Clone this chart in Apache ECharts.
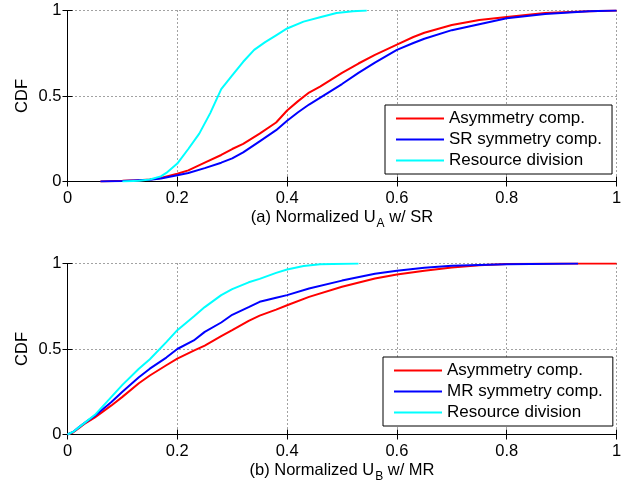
<!DOCTYPE html>
<html>
<head>
<meta charset="utf-8">
<script src="https://cdn.jsdelivr.net/npm/echarts@6/dist/echarts.min.js"></script>
<style>
  html, body { margin: 0; padding: 0; background: #fff; }
  #chart { width: 632px; height: 483px; }
</style>
</head>
<body>
<div id="chart"></div>
<script>
// tick values
var xTicks = [0, 0.2, 0.4, 0.6, 0.8, 1]
var yTicks = [0, 0.5, 1]

// (a) Normalized U_A w/ SR
var topAsymX = [0.06, 0.1, 0.13, 0.15, 0.17, 0.2, 0.22, 0.25, 0.28, 0.3, 0.32, 0.35, 0.38, 0.4, 0.42, 0.44, 0.46, 0.5, 0.53, 0.56, 0.6, 0.63, 0.65, 0.7, 0.75, 0.8, 0.87, 0.95, 1]
var topAsymY = [0, 0.004, 0.008, 0.012, 0.02, 0.045, 0.065, 0.11, 0.155, 0.19, 0.22, 0.28, 0.345, 0.415, 0.47, 0.52, 0.555, 0.635, 0.69, 0.74, 0.8, 0.845, 0.87, 0.915, 0.945, 0.962, 0.985, 0.996, 1]
var topSymX = [0.06, 0.1, 0.15, 0.17, 0.2, 0.22, 0.25, 0.28, 0.3, 0.32, 0.35, 0.38, 0.4, 0.42, 0.44, 0.47, 0.5, 0.53, 0.56, 0.6, 0.63, 0.65, 0.7, 0.75, 0.8, 0.87, 0.95, 1]
var topSymY = [0, 0.003, 0.01, 0.018, 0.037, 0.05, 0.078, 0.11, 0.135, 0.17, 0.235, 0.3, 0.355, 0.405, 0.45, 0.51, 0.57, 0.635, 0.695, 0.77, 0.81, 0.835, 0.885, 0.92, 0.955, 0.98, 0.995, 1]
var topDivX = [0.1, 0.13, 0.15, 0.17, 0.18, 0.2, 0.22, 0.24, 0.26, 0.28, 0.3, 0.32, 0.34, 0.36, 0.38, 0.4, 0.43, 0.46, 0.49, 0.52, 0.545]
var topDivY = [0, 0.004, 0.012, 0.03, 0.05, 0.105, 0.19, 0.28, 0.4, 0.54, 0.62, 0.7, 0.77, 0.815, 0.855, 0.895, 0.935, 0.96, 0.985, 0.995, 1]

// (b) Normalized U_B w/ MR
var botAsymX = [0, 0.01, 0.02, 0.03, 0.05, 0.08, 0.1, 0.13, 0.15, 0.18, 0.2, 0.23, 0.25, 0.28, 0.3, 0.33, 0.35, 0.38, 0.4, 0.44, 0.5, 0.56, 0.6, 0.65, 0.7, 0.75, 0.8, 0.9, 1]
var botAsymY = [0, 0.012, 0.035, 0.06, 0.1, 0.17, 0.22, 0.3, 0.345, 0.405, 0.444, 0.49, 0.52, 0.575, 0.61, 0.665, 0.695, 0.73, 0.756, 0.805, 0.864, 0.912, 0.936, 0.958, 0.976, 0.99, 0.997, 1, 1]
var botSymX = [0, 0.01, 0.02, 0.03, 0.05, 0.08, 0.1, 0.13, 0.15, 0.18, 0.2, 0.23, 0.25, 0.28, 0.3, 0.33, 0.35, 0.38, 0.4, 0.44, 0.5, 0.56, 0.6, 0.65, 0.7, 0.8, 0.93]
var botSymY = [0, 0.015, 0.04, 0.065, 0.11, 0.19, 0.25, 0.335, 0.385, 0.45, 0.5, 0.55, 0.6, 0.655, 0.7, 0.745, 0.776, 0.8, 0.815, 0.854, 0.9, 0.94, 0.957, 0.975, 0.987, 0.996, 1]
var botDivX = [0, 0.01, 0.02, 0.03, 0.05, 0.08, 0.1, 0.13, 0.15, 0.18, 0.2, 0.23, 0.25, 0.28, 0.3, 0.33, 0.35, 0.38, 0.4, 0.43, 0.46, 0.53]
var botDivY = [0, 0.015, 0.04, 0.065, 0.115, 0.22, 0.29, 0.385, 0.44, 0.54, 0.61, 0.69, 0.745, 0.815, 0.85, 0.89, 0.91, 0.945, 0.965, 0.985, 0.995, 1]

var font = "'Liberation Sans', Arial, Helvetica, sans-serif"
var fs = 16.5

function pairs(xs, ys) {
  return xs.map(function (x, i) { return [x, ys[i]] })
}

function mainX(idx, name) {
  return {
    type: "value", gridIndex: idx, position: "bottom",
    min: xTicks[0], max: xTicks[xTicks.length - 1], interval: xTicks[1] - xTicks[0],
    name: name, nameLocation: "middle", nameGap: 24, nameMoveOverlap: false,
    nameTextStyle: {
      color: "#000", fontSize: fs, fontFamily: font,
      rich: { sub: { fontSize: 12, fontFamily: font, color: "#000", padding: [12, 0, 0, 1] } }
    },
    axisLine: { show: true, lineStyle: { color: "#000", width: 1 } },
    axisTick: { show: true, inside: true, length: 5, lineStyle: { color: "#000" } },
    axisLabel: { color: "#000", fontSize: fs, fontFamily: font, margin: 8 },
    splitLine: { show: true, lineStyle: { color: "#444", type: [1, 3], width: 1 } }
  }
}
function boxX(idx) {
  return {
    type: "value", gridIndex: idx, position: "top",
    min: xTicks[0], max: xTicks[xTicks.length - 1], interval: xTicks[1] - xTicks[0],
    axisLine: { show: true, lineStyle: { color: "#000", width: 1 } },
    axisTick: { show: true, inside: true, length: 5, lineStyle: { color: "#000" } },
    axisLabel: { show: false }, splitLine: { show: false }
  }
}
function mainY(idx) {
  return {
    type: "value", gridIndex: idx, position: "left",
    min: yTicks[0], max: yTicks[yTicks.length - 1], interval: yTicks[1] - yTicks[0],
    name: "CDF", nameLocation: "middle", nameGap: 37, nameMoveOverlap: false,
    nameTextStyle: { color: "#000", fontSize: fs, fontFamily: font },
    axisLine: { show: true, lineStyle: { color: "#000", width: 1 } },
    axisTick: { show: true, inside: true, length: 5, lineStyle: { color: "#000" } },
    axisLabel: { color: "#000", fontSize: fs, fontFamily: font, margin: 6 },
    splitLine: { show: true, lineStyle: { color: "#444", type: [1, 3], width: 1 } }
  }
}
function boxY(idx) {
  return {
    type: "value", gridIndex: idx, position: "right",
    min: yTicks[0], max: yTicks[yTicks.length - 1], interval: yTicks[1] - yTicks[0],
    axisLine: { show: true, lineStyle: { color: "#000", width: 1 } },
    axisTick: { show: true, inside: true, length: 5, lineStyle: { color: "#000" } },
    axisLabel: { show: false }, splitLine: { show: false }
  }
}
function line(name, color, idx, data) {
  return {
    name: name, type: "line", xAxisIndex: idx * 2, yAxisIndex: idx * 2,
    data: data, symbol: "none", showSymbol: false, animation: false,
    lineStyle: { color: color, width: 2 }, itemStyle: { color: color }
  }
}
function legendBox(left, top, names) {
  return {
    orient: "vertical", left: left, top: top, data: names,
    icon: "rect", itemWidth: 48, itemHeight: 2, itemGap: 4,
    padding: [5, 10, 5, 11], borderColor: "#000", borderWidth: 1,
    backgroundColor: "#fff", selectedMode: false,
    textStyle: { color: "#000", fontSize: 17, fontFamily: font }
  }
}

var option = {
  backgroundColor: "#fff",
  animation: false,
  grid: [
    { left: 67.5, right: 15.5, top: 10.5, height: 171, outerBoundsMode: "none", containLabel: false },
    { left: 67.5, right: 15.5, top: 263.5, height: 171, outerBoundsMode: "none", containLabel: false }
  ],
  xAxis: [
    mainX(0, "(a) Normalized U{sub|A} w/ SR"), boxX(0),
    mainX(1, "(b) Normalized U{sub|B} w/ MR"), boxX(1)
  ],
  yAxis: [mainY(0), boxY(0), mainY(1), boxY(1)],
  legend: [
    legendBox(385, 105, ["Asymmetry comp.", "SR symmetry comp.", "Resource division"]),
    legendBox(383, 357, ["Asymmetry comp.", "MR symmetry comp.", "Resource division"])
  ],
  series: [
    line("Asymmetry comp.", "#ff0000", 0, pairs(topAsymX, topAsymY)),
    line("SR symmetry comp.", "#0000ff", 0, pairs(topSymX, topSymY)),
    line("Resource division", "#00ffff", 0, pairs(topDivX, topDivY)),
    line("Asymmetry comp.", "#ff0000", 1, pairs(botAsymX, botAsymY)),
    line("MR symmetry comp.", "#0000ff", 1, pairs(botSymX, botSymY)),
    line("Resource division", "#00ffff", 1, pairs(botDivX, botDivY))
  ]
}

var chart = echarts.init(document.getElementById("chart"))
chart.setOption(option)
</script>
</body>
</html>
